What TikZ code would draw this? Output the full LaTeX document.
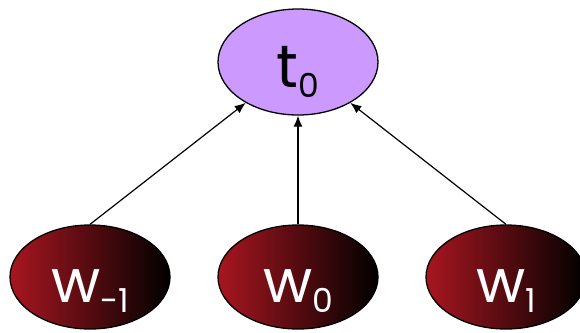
\documentclass[tikz,border=0pt]{standalone}
\usepackage{fontspec}
\setmainfont{Poppins}
\usepackage{tikz}
\usetikzlibrary{arrows.meta,positioning,shapes.geometric}

\definecolor{tagfill}{RGB}{204,153,255}
\definecolor{wordred}{RGB}{168,22,32}
\definecolor{wordmid}{RGB}{122,17,22}
\newcommand{\sym}[2]{{\fontsize{60}{60}\selectfont #1}\raisebox{-10pt}{\fontsize{33}{33}\selectfont #2}}

\begin{document}
\begin{tikzpicture}[x = 1pt, y = -1pt,
  tag/.style = {ellipse, draw, line width = 1.3pt, fill = tagfill, inner sep = 0pt,
    minimum width = 160pt, minimum height = 106pt, text height = 51pt, text depth = 0pt},
  word/.style = {ellipse, draw, line width = 1.3pt, inner sep = 0pt, text = white,
    left color = wordred, middle color = wordmid, right color = black,
    minimum width = 160pt, minimum height = 104pt, text height = 51pt, text depth = 0pt},
  edge/.style = {-{Latex[length = 11pt, width = 9pt]}, line width = 1.2pt}]
\clip (0,0) rectangle (580,332);
\useasboundingbox (0,0) rectangle (580,332);
\node[tag] (t0) at (298,62) {\sym{t}{0}};
\node[word] (wm1) at (90,277) {\sym{w}{-1}};
\node[word] (w0) at (298,277) {\sym{w}{0}};
\node[word] (w1) at (506,277) {\sym{w}{1}};
\draw[edge] (wm1.north) -- (t0);
\draw[edge] (w0.north) -- (t0);
\draw[edge] (w1.north) -- (t0);
\end{tikzpicture}
\end{document}
